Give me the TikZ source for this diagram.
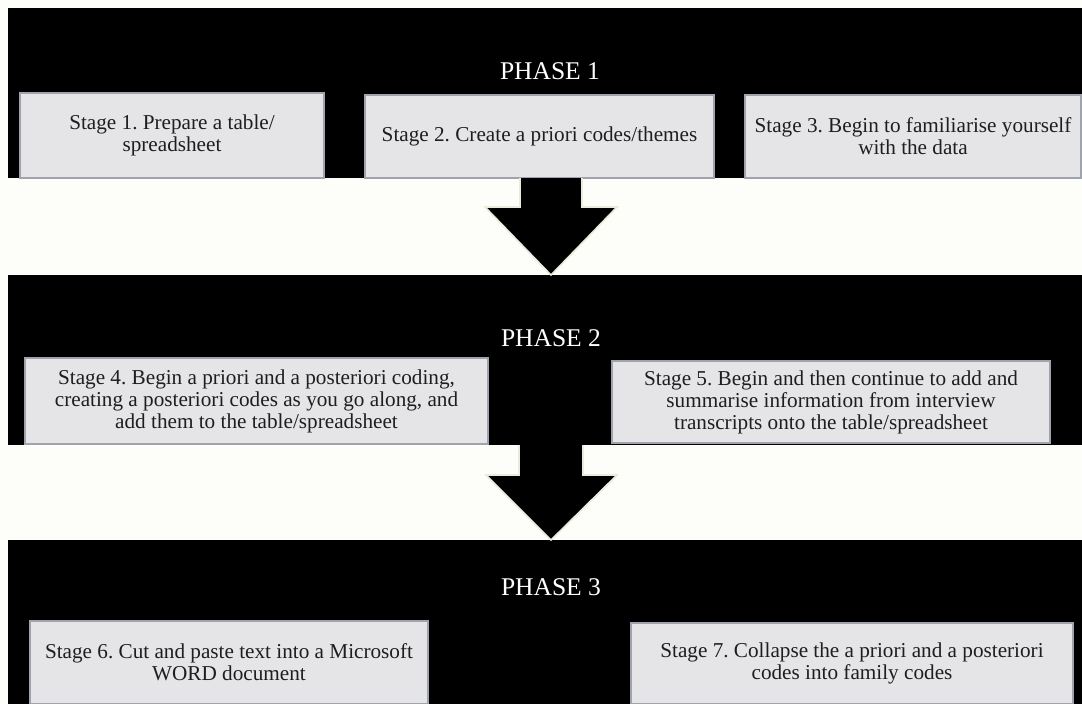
\documentclass[tikz,border=0pt]{standalone}
\usepackage{fontspec}
\setmainfont{Liberation Serif}
\definecolor{pagebg}{RGB}{253,253,250}
\definecolor{boxfill}{RGB}{229,229,231}
\definecolor{boxline}{RGB}{158,163,173}
\definecolor{boxtext}{RGB}{30,30,30}
\definecolor{glow}{RGB}{236,234,220}

\begin{document}
\frenchspacing
\begin{tikzpicture}[x=1pt,y=-1pt,
  band/.style={fill=black, anchor=north west, inner sep=0pt, outer sep=0pt},
  stagebox/.style={fill=boxfill, draw=boxline, line width=1.3pt, align=center,
    text=boxtext, inner sep=0pt, font=\fontsize{21.2}{22}\selectfont},
  phaselabel/.style={text=white, inner sep=0pt, font=\fontsize{25.5}{30}\selectfont},
  flowfill/.style={fill=black},
  flowedge/.style={draw=glow, line width=1.6pt, line join=miter}]

% page
\fill[pagebg] (0,0) rectangle (1082,704);
\useasboundingbox (0,0) rectangle (1082,704);

% phase bands
\node[band, minimum width=1074pt, minimum height=170pt] (p1) at (8,8) {};
\node[band, minimum width=1074pt, minimum height=170pt] (p2) at (8,275) {};
\node[band, minimum width=1074pt, minimum height=164pt] (p3) at (8,540) {};

% phase titles
\node[phaselabel] (t1) at (550,71) {PHASE 1};
\node[phaselabel] (t2) at (551,338) {PHASE 2};
\node[phaselabel] (t3) at (551,587) {PHASE 3};

% stages of phase 1
\node[stagebox, minimum width=304pt, minimum height=85pt] (s1) at (172,135.5)
  {Stage 1. Prepare a table/\\spreadsheet};
\node[stagebox, minimum width=349pt, minimum height=83pt] (s2) at (539.5,136.5)
  {Stage 2. Create a priori codes/themes};
\node[stagebox, minimum width=336pt, minimum height=83pt] (s3) at (913,136.5)
  {Stage 3. Begin to familiarise yourself\\with the data};

% stages of phase 2
\node[stagebox, minimum width=463pt, minimum height=86pt] (s4) at (256.5,401)
  {Stage 4. Begin a priori and a posteriori coding,\\creating a posteriori codes as you go along, and\\add them to the table/spreadsheet};
\node[stagebox, minimum width=438pt, minimum height=82pt] (s5) at (831,402)
  {Stage 5. Begin and then continue to add and\\summarise information from interview\\transcripts onto the table/spreadsheet};

% stages of phase 3
\node[stagebox, minimum width=398pt, minimum height=83pt] (s6) at (229,662.5)
  {Stage 6. Cut and paste text into a Microsoft\\WORD document};
\node[stagebox, minimum width=442pt, minimum height=81pt] (s7) at (852,663.5)
  {Stage 7. Collapse the a priori and a posteriori\\codes into family codes};

% block arrows between phases
\coordinate (a1s) at (551,178);
\coordinate (a1t) at (551,275);
\coordinate (a2s) at (550,445);
\coordinate (a2t) at (551,540);

\fill[flowfill] (a1s) ++(-31,0) -- ++(0,29) -- ++(-35,0) -- (a1t)
  -- ++(66,-68) -- ++(-35,0) -- ++(0,-29) -- cycle;
\draw[flowedge] (a1s) ++(-31,0) -- ++(0,29) -- ++(-35,0) -- (a1t)
  -- ++(66,-68) -- ++(-35,0) -- ++(0,-29);

\fill[flowfill] (a2s) ++(-31,0) -- ++(0,30) -- ++(-33,0) -- (a2t)
  -- ++(66,-65) -- ++(-34,0) -- ++(0,-30) -- cycle;
\draw[flowedge] (a2s) ++(-31,0) -- ++(0,30) -- ++(-33,0) -- (a2t)
  -- ++(66,-65) -- ++(-34,0) -- ++(0,-30);
\end{tikzpicture}
\end{document}
